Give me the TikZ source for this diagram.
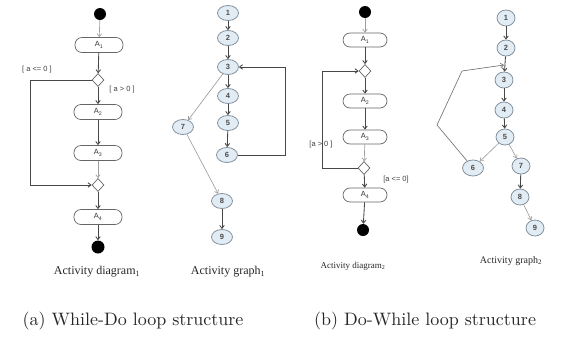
\documentclass[tikz,border=0pt]{standalone}
\usepackage{fontspec}
\newfontfamily\tnr{Liberation Serif}
\newfontfamily\ars{Liberation Sans}
\newfontfamily\lmten{lmroman10-regular.otf}
\usetikzlibrary{shapes.geometric,arrows.meta}
\definecolor{gfill}{HTML}{E2ECF4}
\definecolor{gdraw}{HTML}{84929E}
\tikzset{
  act/.style={draw=black!60, line width=0.7pt, rounded corners=7pt, minimum width=48pt, minimum height=15pt, inner sep=0pt, font=\ars\fontsize{7.5}{8}\selectfont, text=black!80},
  actb/.style={act, minimum width=44pt, minimum height=14pt},
  blob/.style={circle, fill=black, minimum size=12pt, inner sep=0pt},
  dec/.style={diamond, draw=black!60, line width=0.7pt, fill=white, minimum width=12pt, minimum height=13pt, inner sep=0pt},
  gn/.style={ellipse, draw=gdraw, fill=gfill, line width=0.8pt, minimum width=21pt, minimum height=15pt, inner sep=0pt, font=\ars\bfseries\fontsize{7.5}{8}\selectfont, text=black!70},
  gnb/.style={gn, minimum width=18pt, minimum height=16pt},
  arr/.style={-{Straight Barb[length=3pt,width=4.5pt]}, draw=black!72, line width=0.85pt},
  garr/.style={arr, draw=black!38, line width=0.65pt},
  loopl/.style={draw=black!68, line width=1pt},
  guard/.style={font=\ars\fontsize{7.5}{8}\selectfont, text=black!75, inner sep=1pt},
  lbla/.style={font=\tnr\fontsize{12}{14}\selectfont, text=black!85},
  lblb/.style={font=\tnr\fontsize{9}{11}\selectfont, text=black!85},
  lblc/.style={font=\tnr\fontsize{10}{12}\selectfont, text=black!85},
  mainc/.style={font=\lmten\fontsize{18}{20}\selectfont, text=black!85}
}
\begin{document}
\begin{tikzpicture}[x=1pt,y=-1pt]
\useasboundingbox (0,0) rectangle (561,338);
% ---------- Activity diagram 1
\node[blob] (s1) at (100,14) {};
\node[act] (a11) at (99,45) {A\textsubscript{1}};
\node[dec] (d11) at (98,80) {};
\node[act] (a12) at (98,112) {A\textsubscript{2}};
\node[act] (a13) at (98,153) {A\textsubscript{3}};
\node[dec] (d12) at (98,185) {};
\node[act] (a14) at (98,217) {A\textsubscript{4}};
\node[blob, minimum size=13pt] (e1) at (98,247) {};
\draw[garr] (s1) -- (a11);
\draw[arr] (a11) -- (d11);
\draw[arr] (d11) -- (a12);
\draw[arr] (a12) -- (a13);
\draw[garr] (a13) -- (d12);
\draw[arr] (d12) -- (a14);
\draw[arr] (a14) -- (e1);
\coordinate (c1) at (30,185);
\draw[loopl, arr] (d11.west) -| (c1) -- (d12.west);
\node[guard] (g11) at (37,70) {[ a <= 0 ]};
\node[guard] (g12) at (122,90) {[ a > 0 ]};
\node[lbla] (t1) at (97,272) {Activity diagram\textsubscript{1}};
% ---------- Activity graph 1
\node[gn] (g1) at (228,13) {1};
\node[gn] (g2) at (228,38) {2};
\node[gn] (g3) at (228,67) {3};
\node[gn] (g4) at (228,96) {4};
\node[gn] (g5) at (228,123) {5};
\node[gn] (g6) at (227,155) {6};
\node[gn] (g7) at (183,127) {7};
\node[gn] (g8) at (222,201) {8};
\node[gn] (g9) at (222,237) {9};
\draw[arr] (g1) -- (g2);
\draw[arr] (g2) -- (g3);
\draw[arr] (g3) -- (g4);
\draw[arr] (g4) -- (g5);
\draw[arr] (g5) -- (g6);
\draw[garr] (g3) -- (g7);
\draw[garr] (g7) -- (g8);
\draw[arr] (g8) -- (g9);
\coordinate (c2) at (285,67);
\draw[loopl, arr] (g6.east) -| (c2) -- (g3.east);
\node[lbla] (t2) at (228,272) {Activity graph\textsubscript{1}};
% ---------- Activity diagram 2
\node[blob] (s2) at (365,12) {};
\node[actb] (a21) at (365,40) {A\textsubscript{1}};
\node[dec] (d21) at (365,71) {};
\node[actb] (a22) at (365,101) {A\textsubscript{2}};
\node[actb] (a23) at (365,137) {A\textsubscript{3}};
\node[dec] (d22) at (364,168) {};
\node[actb] (a24) at (365,195) {A\textsubscript{4}};
\node[blob] (e2) at (363,230) {};
\draw[garr] (s2) -- (a21);
\draw[arr] (a21) -- (d21);
\draw[arr] (d21) -- (a22);
\draw[arr] (a22) -- (a23);
\draw[garr] (a23) -- (d22);
\draw[arr] (d22) -- (a24);
\draw[arr] (a24) -- (e2);
\coordinate (c3) at (322,71);
\draw[loopl, arr] (d22.west) -| (c3) -- (d21.west);
\node[guard] (g21) at (321,145) {[a > 0 ]};
\node[guard] (g22) at (396,180) {[a <= 0]};
\node[lblb] (t3) at (353,266) {Activity diagram\textsubscript{2}};
% ---------- Activity graph 2
\node[gnb] (h1) at (506,18) {1};
\node[gnb] (h2) at (506,48) {2};
\node[gnb] (h3) at (504,80) {3};
\node[gnb] (h4) at (504,110) {4};
\node[gnb] (h5) at (505,137) {5};
\node[gnb, minimum width=21pt] (h6) at (473,168) {6};
\node[gnb] (h7) at (521,166) {7};
\node[gnb] (h8) at (520,197) {8};
\node[gnb] (h9) at (535,228) {9};
\draw[arr] (h1) -- (h2);
\draw[arr] (h2) -- (h3);
\draw[arr] (h3) -- (h4);
\draw[arr] (h4) -- (h5);
\draw[garr] (h5) -- (h6);
\draw[garr] (h5) -- (h7);
\draw[arr] (h7) -- (h8);
\draw[garr] (h8) -- (h9);
\coordinate (c4) at (437,125);
\coordinate (c5) at (462,71);
\coordinate (c6) at (504,65);
\draw[garr, draw=black!55] (h6) -- (c4) -- (c5) -- (c6);
\node[lblc] (t4) at (511,261) {Activity graph\textsubscript{2}};
% ---------- captions
\node[mainc] (ca) at (133,321) {(a) While-Do loop structure};
\node[mainc] (cb) at (425,321) {(b) Do-While loop structure};
\end{tikzpicture}
\end{document}
